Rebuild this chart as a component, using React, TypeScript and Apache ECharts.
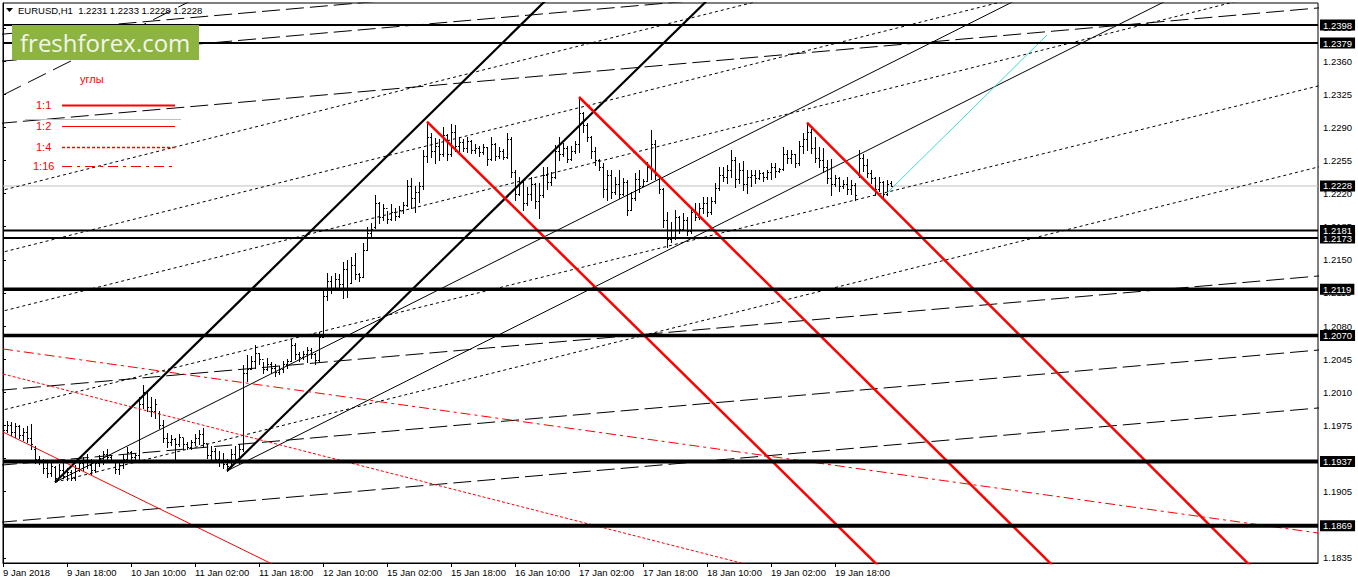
import React, { useEffect, useRef } from "react";
import * as echarts from "echarts";

// ---------- DATA ----------
const headerSymbol = "EURUSD,H1";
const headerValues = ["1.2231", "1.2233", "1.2228", "1.2228"];

const tickIdx = [0, 16, 32, 48, 64, 80, 96, 112, 128, 144, 160, 176, 192, 208];
const tickLabels = [
  "9 Jan 2018", "9 Jan 18:00", "10 Jan 10:00", "11 Jan 02:00", "11 Jan 18:00",
  "12 Jan 10:00", "15 Jan 02:00", "15 Jan 18:00", "16 Jan 10:00", "17 Jan 02:00",
  "17 Jan 18:00", "18 Jan 10:00", "19 Jan 02:00", "19 Jan 18:00",
];
const yTicks = [
  1.1835, 1.187, 1.1905, 1.194, 1.1975, 1.201, 1.2045, 1.208, 1.2115, 1.215,
  1.2185, 1.222, 1.2255, 1.229, 1.2325, 1.236, 1.2395,
];
// tick labels that are not fully covered by the level boxes
const yTickLabels = [
  1.1835, 1.1905, 1.1975, 1.201, 1.2045, 1.208, 1.2115, 1.215,
  1.2185, 1.222, 1.2255, 1.229, 1.2325, 1.236, 1.2395,
];
const yMin = 1.18297;
const yMax = 1.24213;
const xMin = 0;
const xMax = 328.75;

const opens = [
  1.1975, 1.197, 1.1976, 1.1968, 1.1974, 1.1965, 1.1968, 1.1962, 1.195, 1.194,
  1.1938, 1.193, 1.1925, 1.1931, 1.192, 1.1928, 1.1922, 1.1926, 1.192, 1.193,
  1.1935, 1.1938, 1.1933, 1.1928, 1.1935, 1.1941, 1.1945, 1.1942, 1.1938, 1.1929,
  1.1933, 1.194, 1.1947, 1.1942, 1.1944, 1.1998, 1.201, 1.1995, 1.199, 1.1988,
  1.1976, 1.1962, 1.1958, 1.1961, 1.1955, 1.1963, 1.1955, 1.1952, 1.1957, 1.1962,
  1.1966, 1.1956, 1.1944, 1.1948, 1.194, 1.1936, 1.1934, 1.1932, 1.1945, 1.194,
  1.195, 1.203, 1.2035, 1.2043, 1.2052, 1.2045, 1.2035, 1.204, 1.2036, 1.2032,
  1.2035, 1.204, 1.2043, 1.206, 1.205, 1.2047, 1.2051, 1.2055, 1.205, 1.2044,
  1.2068, 1.2112, 1.2128, 1.212, 1.213, 1.2124, 1.214, 1.2125, 1.2145, 1.2135,
  1.2132, 1.216, 1.2178, 1.2185, 1.221, 1.2195, 1.2205, 1.2193, 1.22, 1.2196,
  1.2203, 1.2208, 1.2228, 1.2215, 1.2222, 1.2228, 1.226, 1.228, 1.2265, 1.227,
  1.2262, 1.2282, 1.2262, 1.2285, 1.227, 1.2274, 1.2268, 1.2276, 1.2266, 1.2268,
  1.2264, 1.2269, 1.2257, 1.2272, 1.226, 1.2265, 1.2259, 1.2278, 1.2243, 1.222,
  1.2232, 1.221, 1.222, 1.223, 1.2212, 1.2218, 1.224, 1.2232, 1.2238, 1.2265,
  1.2262, 1.2268, 1.2256, 1.2265, 1.2272, 1.2305, 1.2292, 1.228, 1.2265, 1.2255,
  1.2248, 1.2225, 1.224, 1.2222, 1.223, 1.222, 1.2232, 1.2203, 1.2215, 1.2235,
  1.2228, 1.2233, 1.2248, 1.2272, 1.224, 1.2225, 1.2192, 1.2172, 1.2182, 1.2195,
  1.2183, 1.2192, 1.218, 1.22, 1.2195, 1.2205, 1.221, 1.22, 1.2212, 1.2226,
  1.224, 1.2237, 1.2245, 1.2255, 1.2235, 1.2245, 1.223, 1.2238, 1.224, 1.2236,
  1.2242, 1.2238, 1.2243, 1.2248, 1.2244, 1.2246, 1.2262, 1.2258, 1.2262, 1.2252,
  1.227, 1.2278, 1.2285, 1.2268, 1.2258, 1.2255, 1.2248, 1.2236, 1.223, 1.2236,
  1.2228, 1.223, 1.2225, 1.2229, 1.224, 1.2258, 1.225, 1.2242, 1.2236, 1.2225,
  1.2232, 1.222, 1.2231,
];
const highs = [
  1.1977, 1.198, 1.1979, 1.1978, 1.1976, 1.1972, 1.1974, 1.1977, 1.1953, 1.1943,
  1.194, 1.1935, 1.1936, 1.1932, 1.1934, 1.1935, 1.193, 1.1928, 1.1933, 1.1938,
  1.1942, 1.1945, 1.194, 1.1938, 1.1944, 1.1948, 1.195, 1.1944, 1.1939, 1.1937,
  1.1944, 1.1952, 1.1948, 1.1946, 1.2005, 1.2018, 1.2012, 1.2005, 1.2003, 1.199,
  1.1981, 1.1967, 1.1965, 1.1962, 1.1966, 1.1962, 1.1958, 1.196, 1.1966, 1.197,
  1.1972, 1.1955, 1.1953, 1.1951, 1.1948, 1.1946, 1.194, 1.195, 1.1953, 1.1955,
  1.2039, 1.2049, 1.2048, 1.206, 1.2052, 1.2042, 1.2046, 1.2042, 1.204, 1.2038,
  1.2043, 1.2045, 1.2066, 1.2062, 1.2053, 1.2054, 1.2058, 1.2057, 1.2052, 1.2074,
  1.2118, 1.2136, 1.2133, 1.2136, 1.2135, 1.2148, 1.215, 1.2153, 1.2157, 1.2136,
  1.2168, 1.2185, 1.2189, 1.2218, 1.2211, 1.2209, 1.2202, 1.2209, 1.2205, 1.2207,
  1.2211, 1.2234, 1.2236, 1.2228, 1.2232, 1.2266, 1.2296, 1.2284, 1.2279, 1.2278,
  1.229, 1.2283, 1.2294, 1.2292, 1.228, 1.2278, 1.228, 1.2277, 1.2272, 1.227,
  1.2272, 1.2269, 1.228, 1.2273, 1.2269, 1.2267, 1.2284, 1.228, 1.2245, 1.2238,
  1.2235, 1.2227, 1.2237, 1.2231, 1.2231, 1.2248, 1.2248, 1.2243, 1.2271, 1.228,
  1.2273, 1.227, 1.227, 1.2276, 1.2322, 1.2306, 1.2295, 1.2281, 1.2269, 1.2257,
  1.2252, 1.2245, 1.2245, 1.2238, 1.2245, 1.2236, 1.2234, 1.2222, 1.2242, 1.2245,
  1.2235, 1.2253, 1.2287, 1.2277, 1.224, 1.2226, 1.22, 1.219, 1.2203, 1.2196,
  1.2199, 1.2195, 1.2206, 1.221, 1.221, 1.2216, 1.2216, 1.2216, 1.2231, 1.2248,
  1.2248, 1.225, 1.2266, 1.2259, 1.2252, 1.2254, 1.2245, 1.2245, 1.2245, 1.2245,
  1.2243, 1.2245, 1.2252, 1.2252, 1.2247, 1.2269, 1.2266, 1.2266, 1.2262, 1.2276,
  1.2284, 1.2295, 1.2288, 1.228, 1.2269, 1.2268, 1.2255, 1.2257, 1.224, 1.2237,
  1.2234, 1.2237, 1.2234, 1.2231, 1.2266, 1.2262, 1.2257, 1.2245, 1.2237, 1.2237,
  1.2233, 1.2234, 1.2233,
];
const lows = [
  1.1966, 1.1968, 1.1965, 1.1963, 1.1962, 1.196, 1.1958, 1.195, 1.1935, 1.1934,
  1.1925, 1.1921, 1.1922, 1.1915, 1.1919, 1.1919, 1.1917, 1.1917, 1.1917, 1.1927,
  1.1928, 1.193, 1.1924, 1.1926, 1.1932, 1.1934, 1.1939, 1.1936, 1.1925, 1.1924,
  1.193, 1.1936, 1.1938, 1.1936, 1.1938, 1.1993, 1.199, 1.1985, 1.1983, 1.1972,
  1.1957, 1.1952, 1.1954, 1.194, 1.1953, 1.195, 1.195, 1.195, 1.1954, 1.1955,
  1.1952, 1.1941, 1.1938, 1.1937, 1.1932, 1.193, 1.1927, 1.1932, 1.1938, 1.1935,
  1.1948, 1.2022, 1.2035, 1.2036, 1.204, 1.203, 1.2034, 1.203, 1.2027, 1.2029,
  1.2031, 1.2036, 1.2043, 1.2045, 1.2043, 1.2045, 1.2042, 1.2046, 1.204, 1.2043,
  1.2068, 1.2108, 1.2115, 1.2118, 1.212, 1.211, 1.2111, 1.2125, 1.213, 1.2128,
  1.2132, 1.216, 1.2174, 1.2184, 1.2189, 1.2192, 1.2189, 1.2192, 1.2192, 1.2195,
  1.2199, 1.2207, 1.2205, 1.2201, 1.2211, 1.2225, 1.2253, 1.2259, 1.2252, 1.2255,
  1.226, 1.2255, 1.226, 1.2265, 1.2264, 1.2265, 1.2264, 1.2263, 1.2263, 1.226,
  1.2262, 1.225, 1.2255, 1.2255, 1.2258, 1.2256, 1.2258, 1.2238, 1.2213, 1.2218,
  1.2203, 1.2208, 1.2213, 1.2205, 1.2194, 1.2216, 1.2225, 1.2229, 1.2236, 1.2255,
  1.226, 1.2253, 1.2255, 1.2263, 1.2264, 1.2285, 1.2276, 1.2258, 1.225, 1.2245,
  1.2216, 1.2213, 1.2215, 1.222, 1.2215, 1.2218, 1.2197, 1.2203, 1.2213, 1.2222,
  1.2228, 1.2233, 1.2235, 1.2235, 1.2221, 1.2185, 1.2164, 1.2169, 1.2172, 1.2178,
  1.2181, 1.2176, 1.2178, 1.2192, 1.2193, 1.2199, 1.2196, 1.2198, 1.221, 1.2224,
  1.2233, 1.2231, 1.2238, 1.2227, 1.2231, 1.2224, 1.2221, 1.2228, 1.2231, 1.2235,
  1.2233, 1.2235, 1.2235, 1.2238, 1.2243, 1.2245, 1.2252, 1.2252, 1.2248, 1.225,
  1.2263, 1.2266, 1.2263, 1.2253, 1.2248, 1.2243, 1.2231, 1.2218, 1.2228, 1.2223,
  1.2226, 1.222, 1.2219, 1.2213, 1.2237, 1.2244, 1.2238, 1.2231, 1.2218, 1.2223,
  1.2215, 1.2218, 1.2228,
];
const closes = [
  1.197, 1.1976, 1.1968, 1.1974, 1.1965, 1.1968, 1.1962, 1.1955, 1.194, 1.1938,
  1.193, 1.1925, 1.1932, 1.192, 1.1928, 1.1922, 1.1926, 1.192, 1.193, 1.1935,
  1.1938, 1.1933, 1.1928, 1.1935, 1.1941, 1.1945, 1.1942, 1.1938, 1.1929, 1.1933,
  1.194, 1.1947, 1.1942, 1.1944, 1.1998, 1.201, 1.1995, 1.199, 1.1998, 1.1976,
  1.1962, 1.1958, 1.1961, 1.1955, 1.1963, 1.1955, 1.1952, 1.1957, 1.1962, 1.1966,
  1.1956, 1.1944, 1.1948, 1.194, 1.1936, 1.1934, 1.1932, 1.1945, 1.194, 1.195,
  1.203, 1.2035, 1.2043, 1.2052, 1.2045, 1.2035, 1.204, 1.2036, 1.2032, 1.2035,
  1.204, 1.2043, 1.206, 1.205, 1.2047, 1.2051, 1.2055, 1.205, 1.2044, 1.2068,
  1.2112, 1.2128, 1.212, 1.213, 1.2124, 1.214, 1.2118, 1.2145, 1.2135, 1.2132,
  1.216, 1.2178, 1.2183, 1.221, 1.2195, 1.2205, 1.2193, 1.22, 1.2196, 1.2203,
  1.2208, 1.2228, 1.2215, 1.2222, 1.2228, 1.226, 1.228, 1.2265, 1.227, 1.2262,
  1.2282, 1.2262, 1.2285, 1.227, 1.2274, 1.2268, 1.2276, 1.2266, 1.2268, 1.2264,
  1.2269, 1.2257, 1.2272, 1.226, 1.2265, 1.2259, 1.2278, 1.2243, 1.222, 1.2232,
  1.221, 1.222, 1.223, 1.2212, 1.2218, 1.224, 1.2232, 1.2238, 1.2265, 1.2262,
  1.2268, 1.2256, 1.2265, 1.2272, 1.2305, 1.2292, 1.228, 1.2265, 1.2255, 1.2248,
  1.2225, 1.224, 1.2222, 1.223, 1.222, 1.2232, 1.2203, 1.2215, 1.2235, 1.2228,
  1.2233, 1.2248, 1.2272, 1.224, 1.2225, 1.2192, 1.2172, 1.2182, 1.2195, 1.2183,
  1.2192, 1.218, 1.22, 1.2195, 1.2205, 1.221, 1.22, 1.2212, 1.2226, 1.224,
  1.2237, 1.2245, 1.2255, 1.2235, 1.2245, 1.223, 1.2238, 1.224, 1.2236, 1.2242,
  1.2238, 1.2243, 1.2248, 1.2244, 1.2246, 1.2262, 1.2258, 1.2262, 1.2252, 1.227,
  1.2278, 1.2285, 1.2268, 1.2258, 1.2255, 1.2248, 1.2236, 1.223, 1.2236, 1.2228,
  1.223, 1.2225, 1.2229, 1.2218, 1.2258, 1.225, 1.2242, 1.2236, 1.2225, 1.2232,
  1.222, 1.223, 1.2228,
];

// horizontal levels (drawn in this order; later ones on top)
const levels = [1.2398, 1.2379, 1.2173, 1.2181, 1.2119, 1.207, 1.1937, 1.1869];
const levelWidths = [2, 2, 2, 2, 3.5, 3.5, 4, 4];
const currentPrice = 1.2228;

// trend lines: [barIndex1, price1, barIndex2, price2]
const thickBlackLines = [
  [13, 1.1915, 140, 1.2442],
  [56, 1.1927, 180, 1.24404],
];
const thinBlackLines = [
  [13, 1.1915, 260, 1.24386],
  [56, 1.1927, 300, 1.24431],
];
const dottedBlackLines = [
  [-1, 1.22226, 190, 1.24245],
  [-1, 1.21571, 255, 1.24282],
  [-1, 1.20948, 330, 1.2446],
  [-1, 1.19903, 330, 1.23349],
  [13, 1.1915, 330, 1.22493],
];
const longDashLines = [
  [-1, 1.23881, 95, 1.24235],
  [-1, 1.23596, 170, 1.24227],
  [-1, 1.22941, 330, 1.24165],
  [-1, 1.20121, 330, 1.21333],
  [-1, 1.19329, 330, 1.20551],
  [-1, 1.18726, 330, 1.19939],
];
const shortDashLines = [[0, 1.23241, 50, 1.243]];
const redThickLines = [
  [106, 1.2296, 225, 1.1801],
  [144, 1.2322, 270, 1.17953],
  [201, 1.2295, 320, 1.17922],
];
const redThinLines = [[0, 1.19681, 70, 1.1823]];
const redDottedLines = [[0, 1.20294, 190, 1.18238]];
const redDashDotLines = [[0, 1.20558, 328.75, 1.18614]];
const cyanLines = [[221, 1.22206, 261, 1.23875]];

const legendTitle = "углы";
const legendLabels = ["1:1", "1:2", "1:4", "1:16"];

// ---------- CHART ----------
const FONT = "Liberation Sans";

function seg(p: number[], color: string, width: number, type: any, z: number) {
  return {
    type: "line",
    data: [
      [p[0], p[1]],
      [p[2], p[3]],
    ],
    symbol: "none",
    showSymbol: false,
    silent: true,
    clip: true,
    z,
    lineStyle: { color, width, type, cap: "butt" },
  };
}

function buildOption() {
  const bars = opens.map((o, k) => [k, o, highs[k], lows[k], closes[k]]);
  const series: any[] = [];

  series.push({
    type: "custom",
    data: bars,
    encode: { x: 0, y: [1, 2, 3, 4] },
    clip: true,
    silent: true,
    z: 2,
    renderItem: (params: any, api: any) => {
      const i = api.value(0);
      const o = api.coord([i, api.value(1)]);
      const h = api.coord([i, api.value(2)]);
      const l = api.coord([i, api.value(3)]);
      const c = api.coord([i, api.value(4)]);
      const x = Math.round(o[0]) + 0.5;
      const oy = Math.round(o[1]) + 0.5;
      const cy = Math.round(c[1]) + 0.5;
      const st = { stroke: "#000", lineWidth: 1 };
      return {
        type: "group",
        children: [
          { type: "line", shape: { x1: x, y1: Math.round(h[1]), x2: x, y2: Math.round(l[1]) + 1 }, style: st },
          { type: "line", shape: { x1: x - 1.5, y1: oy, x2: x, y2: oy }, style: st },
          { type: "line", shape: { x1: x, y1: cy, x2: x + 1.5, y2: cy }, style: st },
        ],
      };
    },
  });

  dottedBlackLines.forEach((p) => series.push(seg(p, "#000", 1, [3, 3], 3)));
  longDashLines.forEach((p) => series.push(seg(p, "#000", 1, [18, 6], 3)));
  shortDashLines.forEach((p) => series.push(seg(p, "#000", 1, [20, 8], 3)));
  thinBlackLines.forEach((p) => series.push(seg(p, "#000", 1, "solid", 3)));
  thickBlackLines.forEach((p) => series.push(seg(p, "#000", 2.2, "solid", 4)));
  redDashDotLines.forEach((p) => series.push(seg(p, "#ff0000", 1, [10, 4, 3, 4], 4)));
  redDottedLines.forEach((p) => series.push(seg(p, "#ff0000", 1, [3, 2], 4)));
  redThinLines.forEach((p) => series.push(seg(p, "#ff0000", 1, "solid", 4)));
  redThickLines.forEach((p) => series.push(seg(p, "#ff0000", 2.5, "solid", 5)));
  cyanLines.forEach((p) => series.push(seg(p, "#40d8d0", 1, "solid", 5)));

  const labelBox = (v: number) => ({
    show: true,
    formatter: () => v.toFixed(4),
    color: "#fff",
    backgroundColor: "#000",
    padding: [1, 3, 0, 3],
    distance: 2,
    fontSize: 9.5,
    fontFamily: FONT,
  });

  // current price line
  series.push({
    type: "line",
    data: [
      [xMin, currentPrice],
      [xMax, currentPrice],
    ],
    symbol: "none",
    silent: true,
    clip: false,
    z: 1,
    lineStyle: { color: "#c0c0c0", width: 1 },
    endLabel: labelBox(currentPrice),
  });

  levels.forEach((v, k) => {
    series.push({
      type: "line",
      data: [
        [xMin, v],
        [xMax, v],
      ],
      symbol: "none",
      silent: true,
      clip: false,
      z: 6,
      lineStyle: { color: "#000", width: levelWidths[k] },
      endLabel: labelBox(v),
    });
  });

  const red = "#ff0000";
  const legendY = [105, 126, 147, 166];
  const legendDash: any[] = [null, null, [3, 2], [10, 5, 3, 5]];
  const legendW = [2.2, 1, 1.4, 1.2];
  const graphic: any[] = [
    { type: "rect", shape: { x: 12, y: 25, width: 187, height: 35 }, style: { fill: "#8db440" }, z: 100 },
    {
      type: "text",
      x: 20,
      y: 42,
      style: { text: "freshforex.com", fill: "#f3f6ea", font: '24px "Open Sans"', textVerticalAlign: "middle" },
      z: 101,
    },
    { type: "polygon", shape: { points: [[6, 8], [13, 8], [9.5, 12]] }, style: { fill: "#000" }, z: 100 },
    {
      type: "text",
      x: 18,
      y: 10,
      style: {
        text: headerSymbol + "  " + headerValues.join(" "),
        fill: "#000",
        font: '9.5px "Liberation Sans"',
        textVerticalAlign: "middle",
      },
      z: 100,
    },
    { type: "line", shape: { x1: 25, y1: 119.5, x2: 181, y2: 119.5 }, style: { stroke: "#c0c0c0", lineWidth: 1 }, z: 100 },
    {
      type: "text",
      x: 80,
      y: 79,
      style: { text: legendTitle, fill: red, font: '11px "Liberation Sans"', textVerticalAlign: "middle" },
      z: 100,
    },
  ];
  legendLabels.forEach((t, k) => {
    graphic.push({
      type: "text",
      x: t.length > 3 ? 33 : 36,
      y: legendY[k],
      style: { text: t, fill: red, font: '11px "Liberation Sans"', textVerticalAlign: "middle" },
      z: 100,
    });
    const ls: any = { stroke: red, lineWidth: legendW[k] };
    if (legendDash[k]) ls.lineDash = legendDash[k];
    graphic.push({
      type: "line",
      shape: { x1: 62, y1: legendY[k] + 0.5, x2: 175, y2: legendY[k] + 0.5 },
      style: ls,
      z: 100,
    });
  });

  return {
    animation: false,
    backgroundColor: "#fff",
    textStyle: { fontFamily: FONT },
    grid: {
      left: 3,
      right: 40,
      top: 3,
      bottom: 21,
      show: true,
      borderColor: "#000",
      borderWidth: 1,
      backgroundColor: "#fff",
    },
    xAxis: {
      type: "value",
      min: xMin,
      max: xMax,
      axisLine: { show: true, lineStyle: { color: "#000", width: 1 } },
      splitLine: { show: false },
      axisTick: { show: true, customValues: tickIdx, length: 4, lineStyle: { color: "#000" } },
      axisLabel: {
        customValues: tickIdx,
        formatter: (v: number) => {
          const k = tickIdx.indexOf(Math.round(v));
          return k >= 0 ? tickLabels[k] : "";
        },
        align: "left",
        margin: 4,
        fontSize: 9.5,
        color: "#000",
        fontFamily: FONT,
        showMinLabel: true,
        showMaxLabel: true,
      },
    },
    yAxis: {
      type: "value",
      position: "right",
      min: yMin,
      max: yMax,
      scale: true,
      axisLine: { show: true, lineStyle: { color: "#000", width: 1 } },
      splitLine: { show: false },
      axisTick: { show: true, customValues: yTicks, length: 3, lineStyle: { color: "#000" } },
      axisLabel: {
        customValues: yTickLabels,
        formatter: (v: number) => v.toFixed(4),
        margin: 5,
        fontSize: 9.5,
        color: "#000",
        fontFamily: FONT,
        showMinLabel: true,
        showMaxLabel: true,
      },
    },
    series,
    graphic,
  };
}

export default function App() {
  const ref = useRef<HTMLDivElement>(null);
  useEffect(() => {
    if (!ref.current) return;
    const chart = echarts.init(ref.current, null, { renderer: "svg" });
    chart.setOption(buildOption() as any);
    return () => chart.dispose();
  }, []);
  return (
    <div
      ref={ref}
      style={{ position: "fixed", left: 0, top: 0, width: 1358, height: 584, background: "#fff" }}
    />
  );
}
